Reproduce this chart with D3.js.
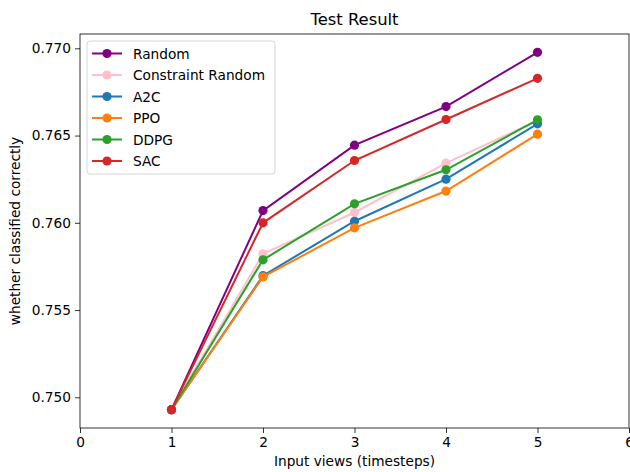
<!DOCTYPE html>
<html>
<head>
<meta charset="utf-8">
<script src="https://d3js.org/d3.v7.min.js"></script>
<style>
  body { margin: 0; background: #fff; }
  text { font-family: "DejaVu Sans", sans-serif; fill: #000; }
</style>
</head>
<body>
<div id="chart"></div>
<script>
// timesteps
var steps = [1, 2, 3, 4, 5];

var seriesNames = ["Random", "Constraint Random", "A2C", "PPO", "DDPG", "SAC"];
var seriesColors = ["#800080", "#ffc0cb", "#1f77b4", "#ff7f0e", "#2ca02c", "#d62728"];

var randomVals     = [0.74929, 0.76070, 0.76445, 0.76666, 0.76977];
var constraintVals = [0.74929, 0.75822, 0.76059, 0.76342, 0.76585];
var a2cVals        = [0.74929, 0.75697, 0.76009, 0.76250, 0.76567];
var ppoVals        = [0.74929, 0.75690, 0.75971, 0.76182, 0.76508];
var ddpgVals       = [0.74929, 0.75788, 0.76109, 0.76304, 0.76590];
var sacVals        = [0.74929, 0.76000, 0.76357, 0.76592, 0.76828];

var allVals = [randomVals, constraintVals, a2cVals, ppoVals, ddpgVals, sacVals];

var xTicks = [0, 1, 2, 3, 4, 5, 6];
var yTicks = [0.750, 0.755, 0.760, 0.765, 0.770];

var width = 630, height = 472;
var margin = { left: 80, right: 1, top: 34, bottom: 44 };

var svg = d3.select("#chart").append("svg")
  .attr("width", width)
  .attr("height", height);

var x = d3.scaleLinear().domain([0, 6]).range([margin.left, width - margin.right]);
var y = d3.scaleLinear().domain([0.74824, 0.77082]).range([height - margin.bottom, margin.top]);

// axes
svg.append("g")
  .attr("transform", "translate(0," + (height - margin.bottom) + ")")
  .call(d3.axisBottom(x).tickValues(xTicks).tickFormat(d3.format("d")).tickSize(5).tickPadding(4))
  .call(function (g) {
    g.select(".domain").remove();
    g.selectAll("line").attr("stroke", "#000").attr("stroke-width", 0.8);
    g.selectAll("text").attr("font-size", 13.7).attr("font-family", "DejaVu Sans");
  });

svg.append("g")
  .attr("transform", "translate(" + margin.left + ",0)")
  .call(d3.axisLeft(y).tickValues(yTicks).tickFormat(d3.format(".3f")).tickSize(5).tickPadding(4))
  .call(function (g) {
    g.select(".domain").remove();
    g.selectAll("line").attr("stroke", "#000").attr("stroke-width", 0.8);
    g.selectAll("text").attr("font-size", 13.7).attr("font-family", "DejaVu Sans");
  });

// frame
svg.append("rect")
  .attr("x", margin.left)
  .attr("y", margin.top)
  .attr("width", width - margin.right - margin.left)
  .attr("height", height - margin.bottom - margin.top)
  .attr("fill", "none")
  .attr("stroke", "#000")
  .attr("stroke-width", 0.8);

// lines
var line = d3.line()
  .x(function (d, i) { return x(steps[i]); })
  .y(function (d) { return y(d); });

allVals.forEach(function (vals, k) {
  var g = svg.append("g");
  g.append("path")
    .attr("d", line(vals))
    .attr("fill", "none")
    .attr("stroke", seriesColors[k])
    .attr("stroke-width", 2);
  g.selectAll("circle")
    .data(vals)
    .enter()
    .append("circle")
    .attr("cx", function (d, i) { return x(steps[i]); })
    .attr("cy", function (d) { return y(d); })
    .attr("r", 4.6)
    .attr("fill", seriesColors[k]);
});

// legend
var legend = svg.append("g").attr("transform", "translate(87,41)");
legend.append("rect")
  .attr("width", 188)
  .attr("height", 133)
  .attr("rx", 3)
  .attr("fill", "#fff")
  .attr("fill-opacity", 0.8)
  .attr("stroke", "#d6d6d6");

seriesNames.forEach(function (name, k) {
  var ly = 12.5 + k * 21.5;
  legend.append("line")
    .attr("x1", 5).attr("x2", 35)
    .attr("y1", ly).attr("y2", ly)
    .attr("stroke", seriesColors[k])
    .attr("stroke-width", 2);
  legend.append("circle")
    .attr("cx", 20).attr("cy", ly).attr("r", 4.6)
    .attr("fill", seriesColors[k]);
  legend.append("text")
    .attr("x", 46).attr("y", ly + 5)
    .attr("font-size", 13.7)
    .text(name);
});

// title and labels
svg.append("text")
  .attr("x", (margin.left + width - margin.right) / 2)
  .attr("y", 25)
  .attr("text-anchor", "middle")
  .attr("font-size", 16.4)
  .text("Test Result");

svg.append("text")
  .attr("x", (margin.left + width - margin.right) / 2)
  .attr("y", 466)
  .attr("text-anchor", "middle")
  .attr("font-size", 13.7)
  .text("Input views (timesteps)");

svg.append("text")
  .attr("transform", "translate(20," + ((margin.top + height - margin.bottom) / 2) + ") rotate(-90)")
  .attr("text-anchor", "middle")
  .attr("font-size", 13.7)
  .text("whether classified correctly");
</script>
</body>
</html>
